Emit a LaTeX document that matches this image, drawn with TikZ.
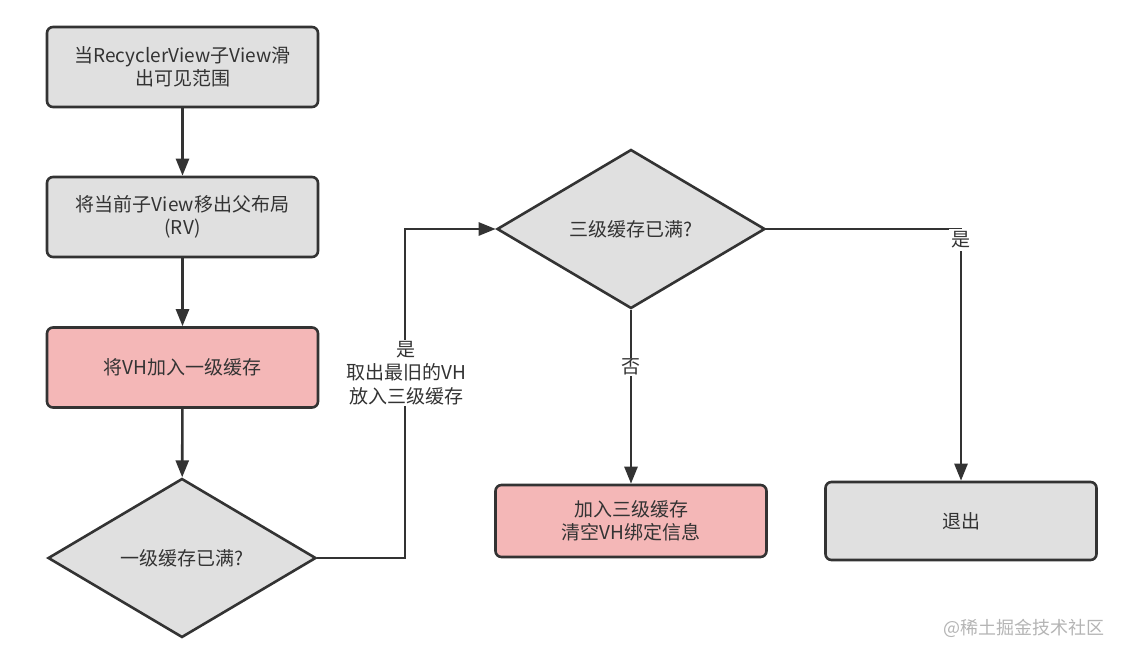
\documentclass[tikz,border=0pt]{standalone}
\usepackage{fontspec}
\setmainfont{Noto Sans CJK SC}
\usetikzlibrary{shapes.geometric,arrows.meta}
\definecolor{boxgrey}{HTML}{E0E0E0}
\definecolor{boxpink}{HTML}{F4B7B7}
\definecolor{linedark}{HTML}{333333}
\definecolor{markgrey}{HTML}{B4B4B4}

\begin{document}
\begin{tikzpicture}[x=1pt,y=-1pt,->,>={Triangle[length=17pt,width=13pt]},draw=linedark,line width=2.6pt,font=\fontsize{19}{23.5}\selectfont,text=linedark]
    \tikzstyle{flow box}=[rectangle,rounded corners=6pt,draw=linedark,line width=2.6pt,minimum width=271pt,minimum height=80pt,inner sep=0pt,align=center]
    \tikzstyle{grey box}=[flow box,fill=boxgrey]
    \tikzstyle{pink box}=[flow box,fill=boxpink]
    \tikzstyle{test}=[diamond,draw=linedark,line width=2.6pt,fill=boxgrey,minimum width=268pt,minimum height=159pt,inner sep=0pt]
    \tikzstyle{annot}=[fill=white,align=center,inner sep=1pt]

    \useasboundingbox (0,0) rectangle (1124,658);

    % Left column
    \node[grey box] (S-1) at (182.5,67) {当RecyclerView子View滑\\出可见范围};
    \node[grey box] (S-2) at (182.5,217) {将当前子View移出父布局\\(RV)};
    \node[pink box] (S-3) at (182.5,367.5) {将VH加入一级缓存};
    \node[test] (D-1) at (182,558) {一级缓存已满?};

    % Right part
    \node[test] (D-2) at (631,229) {三级缓存已满?};
    \node[pink box, minimum height=72pt] (S-4) at (631,521) {加入三级缓存\\清空VH绑定信息};
    \node[grey box, minimum height=78pt] (S-5) at (961,521) {退出};

    \path (S-1) edge (S-2);
    \path (S-2) edge (S-3);
    \path (S-3) edge (D-1);

    \coordinate (B-1) at (405,558);
    \draw (D-1.east) -- (B-1) |- (D-2.west);
    \draw (D-2.south) -- (S-4.north);
    \draw (D-2.east) -| (S-5.north);

    % Annotate the branches
    \node[annot] (L-1) at (406,373) {是\\取出最旧的VH\\放入三级缓存};
    \node[annot] (L-2) at (631,367) {否};
    \node[annot, inner sep=3pt] (L-3) at (961,240) {是};

    \node[text=markgrey, font=\fontsize{18}{22}\selectfont] (W) at (1024,628) {@稀土掘金技术社区};
\end{tikzpicture}
\end{document}
